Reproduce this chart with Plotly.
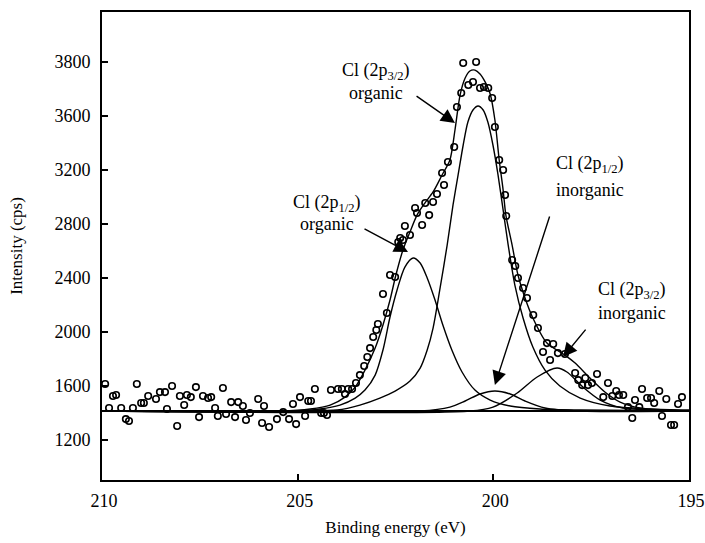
import plotly.graph_objects as go

# ---- measured data points (binding energy eV, intensity cps on nominal axis scale)
pts_e = [209.92, 209.82, 209.72, 209.64, 209.51, 209.39, 209.31, 209.21, 209.11, 209.00,
         208.93, 208.82, 208.62, 208.52, 208.39, 208.34, 208.21, 208.08, 208.01, 207.90,
         207.83, 207.73, 207.60, 207.52, 207.42, 207.29, 207.21, 207.11, 207.04, 206.91,
         206.83, 206.70, 206.60, 206.52, 206.40, 206.32, 206.22, 206.01, 205.91, 205.86,
         205.73, 205.53, 205.37, 205.22, 205.12, 205.04, 204.94, 204.81, 204.73, 204.66,
         204.56, 204.40, 204.33, 204.25, 204.15, 203.97, 203.87, 203.79, 203.71, 203.61,
         203.51, 203.41, 203.30, 203.22, 203.15, 203.07, 202.99, 202.95, 202.82, 202.72,
         202.64, 202.51, 202.43, 202.38, 202.31, 202.26, 202.13, 202.00, 201.95, 201.82,
         201.74, 201.64, 201.54, 201.44, 201.31, 201.26, 201.16, 201.00, 200.93, 200.82,
         200.77, 200.64, 200.52, 200.44, 200.34, 200.24, 200.13, 200.03, 199.96, 199.85,
         199.75, 199.70, 199.67, 199.52, 199.44, 199.37, 199.24, 199.14, 198.98, 198.86,
         198.73, 198.63, 198.55, 198.47, 198.35, 198.17, 197.91, 197.83, 197.73, 197.65,
         197.58, 197.48, 197.35, 197.19, 197.07, 196.96, 196.86, 196.79, 196.68, 196.56,
         196.45, 196.38, 196.27, 196.20, 196.07, 195.97, 195.89, 195.76, 195.69, 195.58,
         195.46, 195.38, 195.28, 195.18]
pts_v = [1615, 1437, 1526, 1533, 1437, 1355, 1341, 1437, 1615, 1474,
         1474, 1526, 1504, 1555, 1555, 1430, 1600, 1304, 1526, 1459,
         1533, 1518, 1592, 1370, 1526, 1511, 1518, 1437, 1378, 1585,
         1393, 1481, 1370, 1481, 1452, 1348, 1400, 1504, 1326, 1452,
         1296, 1355, 1407, 1355, 1467, 1318, 1518, 1378, 1489, 1489,
         1578, 1400, 1400, 1385, 1570, 1578, 1578, 1541, 1578, 1578,
         1622, 1681, 1748, 1815, 1881, 1963, 2015, 2059, 2281, 2141,
         2422, 2407, 2666, 2696, 2681, 2785, 2718, 2918, 2881, 2792,
         2955, 2866, 2963, 3022, 3178, 3089, 3259, 3370, 3666, 3770,
         3992, 3829, 3852, 4000, 3807, 3815, 3807, 3733, 3518, 3274,
         3200, 3015, 2859, 2533, 2489, 2400, 2326, 2252, 2126, 2030,
         1852, 1918, 1793, 1911, 1844, 1837, 1696, 1644, 1607, 1659,
         1607, 1622, 1689, 1518, 1622, 1526, 1563, 1533, 1533, 1444,
         1363, 1496, 1444, 1578, 1511, 1511, 1474, 1563, 1378, 1504,
         1311, 1311, 1467, 1518]

# ---- fitted envelope
env_e = [210, 205.45, 204.68, 204.17, 203.79, 203.53, 203.28, 203.02, 202.82, 202.64,
         202.49, 202.31, 202.13, 201.95, 201.75, 201.54, 201.31, 201.11, 200.98, 200.85,
         200.72, 200.60, 200.47, 200.34, 200.21, 200.08, 199.96, 199.85, 199.75, 199.68,
         199.52, 199.37, 199.19, 198.99, 198.63, 198.17, 197.91, 197.53, 197.15, 196.76,
         196.25, 195.61, 195.00]
env_v = [1415, 1415, 1430, 1459, 1518, 1592, 1718, 1881, 2052, 2237,
         2422, 2607, 2741, 2866, 2955, 3037, 3163, 3274, 3496, 3755,
         3881, 3933, 3940, 3911, 3852, 3763, 3570, 3274, 3052, 2866,
         2644, 2422, 2252, 2104, 1918, 1829, 1770, 1659, 1556, 1481,
         1437, 1422, 1415]

# ---- Cl 2p3/2 organic component
p32o_e = [210, 204.94, 203.99, 203.41, 202.90, 202.51, 202.13, 201.87, 201.69, 201.54,
          201.36, 201.18, 201.03, 200.90, 200.77, 200.65, 200.52, 200.39, 200.26, 200.14,
          200.01, 199.88, 199.75, 199.62, 199.45, 199.24, 198.99, 198.68, 198.30, 197.78,
          197.02, 196.00, 195.00]
p32o_v = [1415, 1415, 1422, 1459, 1511, 1563, 1637, 1733, 1867, 2029,
          2326, 2644, 2941, 3163, 3385, 3555, 3644, 3674, 3644, 3555,
          3385, 3163, 2904, 2644, 2348, 2104, 1889, 1718, 1600, 1511,
          1452, 1430, 1422]

# ---- Cl 2p1/2 organic component
p12o_e = [210, 205.20, 204.43, 203.92, 203.53, 203.28, 203.02, 202.82, 202.64, 202.46,
          202.26, 202.05, 201.87, 201.69, 201.49, 201.29, 201.06, 200.80, 200.47, 200.08,
          199.57, 198.81, 197.78, 195.00]
p12o_v = [1415, 1415, 1430, 1459, 1511, 1570, 1681, 1867, 2111, 2311,
          2481, 2548, 2511, 2400, 2237, 2052, 1867, 1704, 1570, 1496,
          1452, 1430, 1422, 1415]

# ---- Cl 2p1/2 inorganic component
p12i_e = [210, 201.87, 201.11, 200.72, 200.34, 199.96, 199.57, 199.19, 198.68, 197.78, 195.00]
p12i_v = [1415, 1415, 1444, 1489, 1541, 1563, 1541, 1489, 1437, 1415, 1415]

# ---- Cl 2p3/2 inorganic component
p32i_e = [210, 200.60, 200.01, 199.39, 198.88, 198.37, 198.12, 197.71, 197.27, 196.69, 195.74, 195.00]
p32i_v = [1415, 1415, 1444, 1548, 1667, 1733, 1704, 1592, 1496, 1437, 1422, 1415]

# ---- background
base_e = [210, 195]
base_v = [1415, 1415]

# ---- axis ticks
x_ticks = [210, 205, 200, 195]
y_tickvals = [1200, 1600, 2000, 2400, 2800, 3200, 3600, 4000]
y_ticktext = ['1200', '1600', '2000', '2400', '2800', '3200', '3600', '3800']

# ---- labels: (text line 1, text line 2, label x, label y1, label y2, tip x, tip y, tail x, tail y)
labels = [
    ("Cl (2p<sub>3/2</sub>)", "organic", 203.00, 3926, 3770, 200.98, 3548, 202.00, 3755),
    ("Cl (2p<sub>1/2</sub>)", "organic", 204.25, 2955, 2800, 202.18, 2592, 203.33, 2770),
    ("Cl (2p<sub>1/2</sub>)", "inorganic", 197.53, 3237, 3052, 199.96, 1607, 198.55, 2866),
    ("Cl (2p<sub>3/2</sub>)", "inorganic", 196.46, 2311, 2141, 198.22, 1815, 197.61, 2029),
]

FONT = "Liberation Serif, Times New Roman, serif"

fig = go.Figure()
line_style = dict(color="black", width=1.4, shape="spline", smoothing=0.8)
for xe, yv in [(base_e, base_v), (p32o_e, p32o_v), (p12o_e, p12o_v),
               (p12i_e, p12i_v), (p32i_e, p32i_v), (env_e, env_v)]:
    fig.add_trace(go.Scatter(x=xe, y=yv, mode="lines", line=line_style,
                             hoverinfo="skip", showlegend=False))
fig.data[0].line = dict(color="black", width=2)

fig.add_trace(go.Scatter(x=pts_e, y=pts_v, mode="markers", showlegend=False,
                         marker=dict(symbol="circle-open", size=6.5, color="black",
                                     line=dict(width=1.6, color="black"))))

for t1, t2, lx, ly1, ly2, tx, ty, ax_, ay_ in labels:
    fig.add_annotation(x=lx, y=ly1, text=t1, showarrow=False,
                       font=dict(family=FONT, size=18, color="black"))
    fig.add_annotation(x=lx, y=ly2, text=t2, showarrow=False,
                       font=dict(family=FONT, size=18, color="black"))
    fig.add_annotation(x=tx, y=ty, ax=ax_, ay=ay_, axref="x", ayref="y",
                       text="", showarrow=True, arrowhead=2, arrowsize=2,
                       arrowwidth=1.4, arrowcolor="black")

fig.update_layout(
    width=705, height=543,
    margin=dict(l=102, r=16, t=12, b=63),
    paper_bgcolor="white", plot_bgcolor="white",
    font=dict(family=FONT, size=18, color="black"),
    xaxis=dict(range=[210, 195], tickvals=x_ticks, ticks="inside", ticklen=6,
               tickwidth=1.5, tickcolor="black", ticklabeloverflow="allow",
               ticklabelshift=-2, ticklabelstandoff=3, automargin=False,
               showline=True, linecolor="black", linewidth=2, mirror=True,
               showgrid=False, zeroline=False,
               title=dict(text="Binding energy (eV)", font=dict(size=17), standoff=12)),
    yaxis=dict(range=[904, 4370], tickvals=y_tickvals, ticktext=y_ticktext,
               ticks="inside", ticklen=6, tickwidth=1.5, tickcolor="black",
               showline=True, linecolor="black", linewidth=2, mirror=True,
               showgrid=False, zeroline=False, ticklabelstandoff=6, automargin=False,
               title=dict(text="Intensity (cps)", font=dict(size=17), standoff=27)),
)

fig.write_html("out.html", config={"displayModeBar": False},
               post_script="document.body.style.margin='0';document.body.style.overflow='hidden';")
